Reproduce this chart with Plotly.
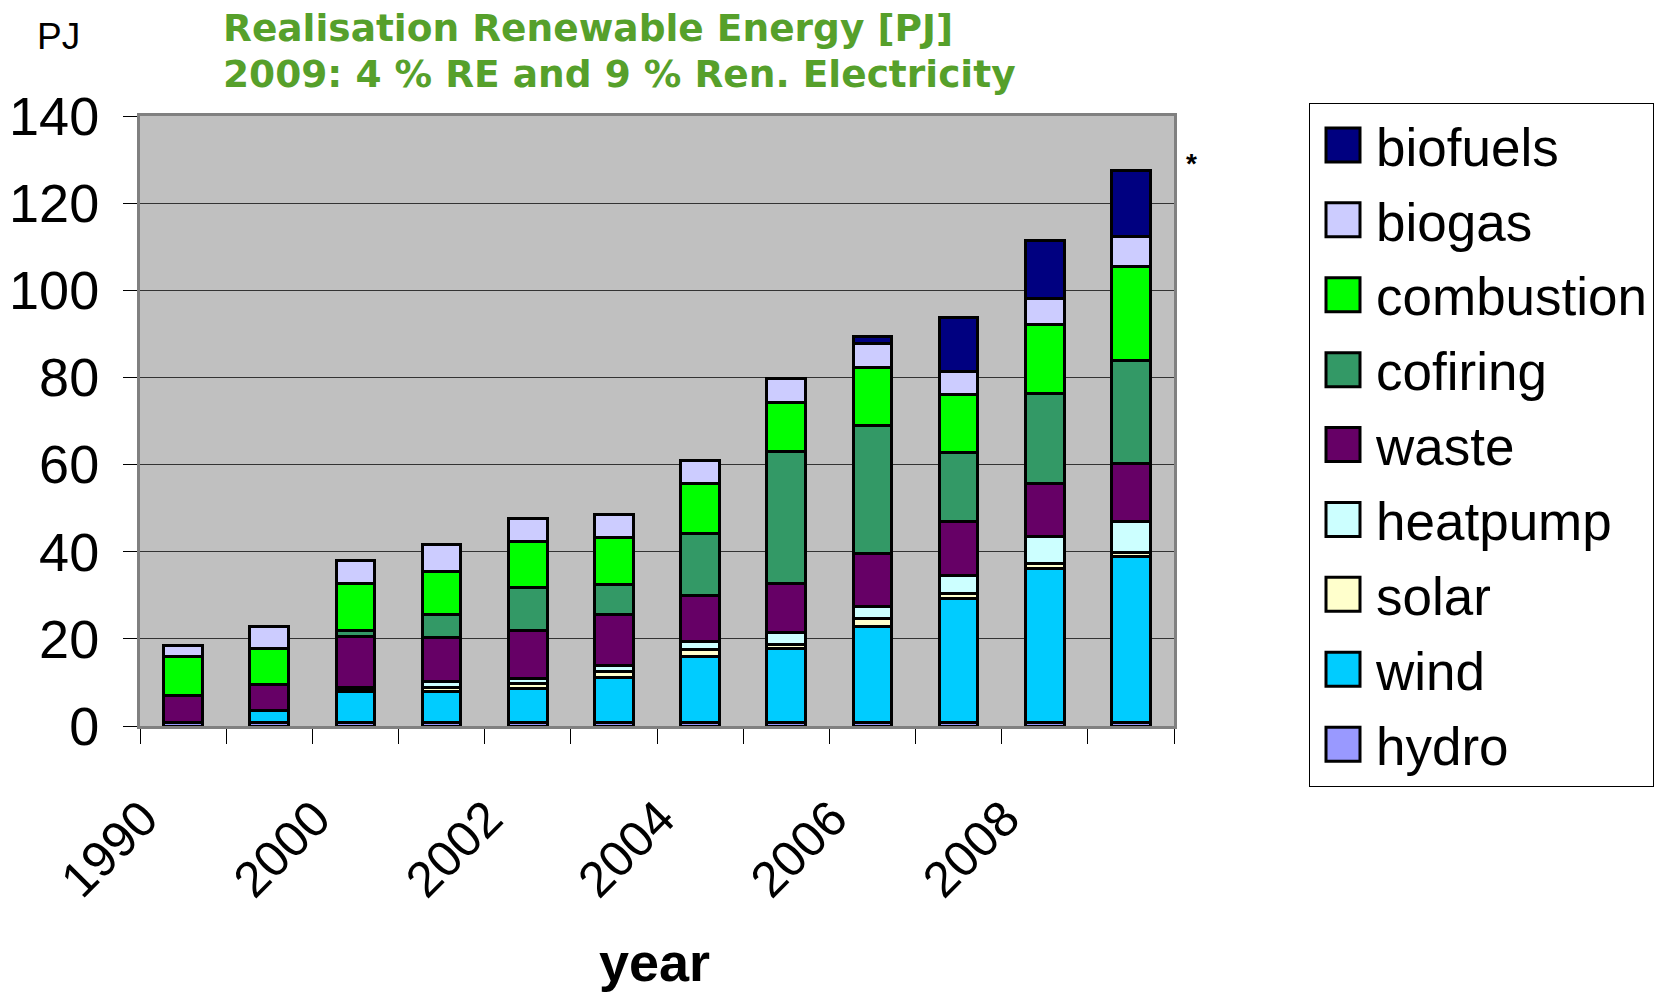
import plotly.graph_objects as go

years = ["1990", "1995", "2000", "2001", "2002", "2003", "2004", "2005", "2006", "2007", "2008", "2009"]
tick_labels = ["1990", "", "2000", "", "2002", "", "2004", "", "2006", "", "2008", ""]

hydro = [0.8, 0.8, 0.8, 0.8, 0.8, 0.8, 0.8, 0.8, 0.8, 0.8, 0.8, 0.8]
wind = [0, 2.7, 7.1, 7.1, 7.9, 10.4, 15.1, 17.0, 22.1, 28.5, 35.4, 38.0]
solar = [0, 0, 0.4, 1.0, 1.0, 1.2, 1.7, 0.8, 1.7, 1.0, 1.2, 1.1]
heatpump = [0, 0, 0.5, 1.3, 1.2, 1.6, 1.8, 2.8, 2.8, 4.3, 6.1, 7.0]
waste = [6.2, 6.1, 11.8, 10.1, 11.1, 11.5, 10.5, 11.4, 12.3, 12.3, 12.1, 13.4]
cofiring = [0, 0, 1.4, 5.2, 9.8, 7.0, 14.3, 30.1, 29.3, 15.8, 20.6, 23.7]
combustion = [8.9, 8.2, 10.7, 9.9, 10.6, 10.8, 11.4, 11.4, 13.3, 13.3, 15.9, 21.4]
biogas = [2.6, 5.1, 5.2, 6.2, 5.3, 5.3, 5.4, 5.5, 5.4, 5.4, 6.1, 7.0]
biofuels = [0, 0, 0, 0, 0, 0, 0, 0, 1.8, 12.4, 13.3, 15.1]

series = [
    ("hydro", hydro, "#9999FF"),
    ("wind", wind, "#00CCFF"),
    ("solar", solar, "#FFFFCC"),
    ("heatpump", heatpump, "#CCFFFF"),
    ("waste", waste, "#660066"),
    ("cofiring", cofiring, "#339966"),
    ("combustion", combustion, "#00FF00"),
    ("biogas", biogas, "#CCCCFF"),
    ("biofuels", biofuels, "#000080"),
]

fig = go.Figure()
n = len(series)
for i, (name, vals, color) in enumerate(series):
    fig.add_trace(go.Bar(
        x=years, y=vals, name=name, legendgroup=name, legendrank=n - i,
        marker=dict(color=color, line=dict(color="black", width=3)),
    ))

W, H = 1654, 992
L, R, T, B = 140, 1174, 116, 726
pw, ph = R - L, B - T

def px(xs):
    return (xs - L) / pw

def py(ys):
    return (B - ys) / ph

green = "#56A02B"
fig.update_layout(
    width=W, height=H,
    margin=dict(l=L, r=W - R, t=T, b=H - B, autoexpand=False),
    barmode="stack", bargap=0.55,
    paper_bgcolor="white", plot_bgcolor="#C0C0C0",
    font=dict(family="Liberation Sans, Arial, sans-serif", color="black"),
    showlegend=True,
    legend=dict(
        x=px(1309), y=py(103), xanchor="left", yanchor="top",
        traceorder="grouped", tracegroupgap=3, maxheight=800,
        font=dict(size=53, family="Liberation Sans, Arial, sans-serif"),
        bordercolor="black", borderwidth=1, bgcolor="white",
        itemwidth=56,
    ),
    xaxis=dict(
        type="category", tickmode="array", tickvals=years, ticktext=tick_labels,
        tickson="boundaries", ticks="outside", ticklen=15, tickcolor="black", tickwidth=1,
        tickangle=-45, tickfont=dict(size=50),
        ticklabelstandoff=40, ticklabelshift=-40, automargin=False,
        showline=True, linecolor="#808080", linewidth=3, mirror=True,
        showgrid=False,
    ),
    yaxis=dict(
        range=[0, 140], dtick=20, ticks="outside", ticklen=14, tickcolor="black",
        tickfont=dict(size=54), ticklabelstandoff=13, automargin=False,
        showline=True, linecolor="#808080", linewidth=3, mirror=True,
        showgrid=True, gridcolor="#333333", gridwidth=1, zeroline=False,
    ),
    annotations=[
        dict(text="Realisation Renewable Energy [PJ]", xref="paper", yref="paper",
             x=px(221), y=py(28), xanchor="left", yanchor="middle", showarrow=False,
             font=dict(family="DejaVu Sans", size=37.5, color=green, weight="bold")),
        dict(text="2009: 4 % RE and 9 % Ren. Electricity", xref="paper", yref="paper",
             x=px(221), y=py(74), xanchor="left", yanchor="middle", showarrow=False,
             font=dict(family="DejaVu Sans", size=37.5, color=green, weight="bold")),
        dict(text="PJ", xref="paper", yref="paper", x=px(58), y=py(36),
             xanchor="center", yanchor="middle", showarrow=False,
             font=dict(size=37, color="black")),
        dict(text="year", xref="paper", yref="paper", x=px(654), y=py(962),
             xanchor="center", yanchor="middle", showarrow=False,
             font=dict(size=54, color="black", weight="bold")),
        dict(text="*", xref="paper", yref="paper", x=px(1191), y=py(163),
             xanchor="center", yanchor="middle", showarrow=False,
             font=dict(size=28, color="black", weight="bold")),
    ],
)

post = """
document.body.style.margin = '0';
document.body.style.padding = '0';
function bigSwatches(){
  document.querySelectorAll('.legend .legendpoints path').forEach(function(p){
    p.setAttribute('d','M17,17H-17V-17H17Z');
    p.style.strokeWidth='3px';
  });
}
bigSwatches();
setTimeout(bigSwatches, 300);
"""

fig.write_html("out.html", post_script=post, config={"displayModeBar": False})
